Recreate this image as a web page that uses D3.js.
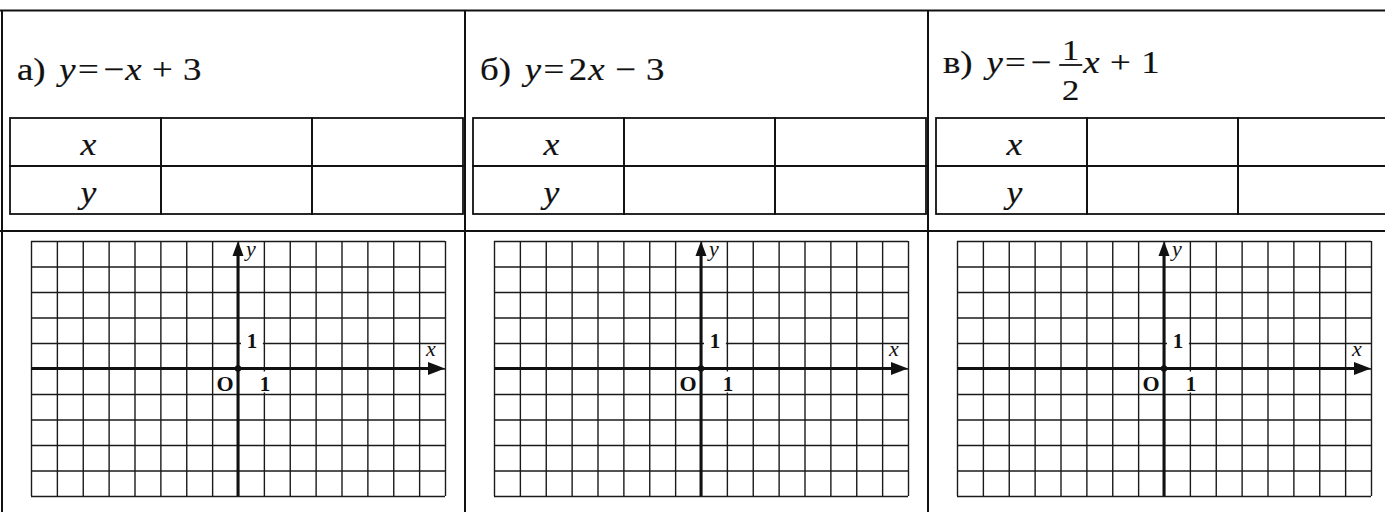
<!DOCTYPE html>
<html>
<head>
<meta charset="utf-8">
<script src="https://cdn.jsdelivr.net/npm/d3@7"></script>
<style>
  body { margin: 0; background: #fff; }
  svg { display: block; }
  text { font-family: "Liberation Serif", "DejaVu Serif", serif; fill: #111; }
  .formula text { stroke: #111; stroke-width: 0.2; }
</style>
</head>
<body>
<div class="sheet"></div>
<script>
// panel captions
var panelLetters = ["а)", "б)", "в)"];

// formulas as tokens: [text, kind]; kind "var" is italic, "frac" holds [numerator, denominator]
var formulaA = [["y", "var"], ["=", "rel"], ["−", "un"], ["x", "var"], ["+", "bin"], ["3", "num"]];
var formulaB = [["y", "var"], ["=", "rel"], ["2", "num"], ["x", "var"], ["−", "bin"], ["3", "num"]];
var formulaC = [["y", "var"], ["=", "rel"], ["−", "un"], [["1", "2"], "frac"], ["x", "var"], ["+", "bin"], ["1", "num"]];
var formulas = [formulaA, formulaB, formulaC];

// value table: row names, two empty columns to fill in
var tableRows = ["x", "y"];
var tableCols = ["name", "c1", "c2"];

// coordinate grid
var xDomain = [-8, 8];
var yDomain = [-5, 5];
var unitTick = 1;

function init() {
  var w = 1385;
  var h = 512;
  var panelLeft = [2, 465, 928];
  var topLine = 10.5;
  var midLine = 231;
  var fs = 32;        // formula font size
  var stretch = 1.15; // the printed typeface is wider than Times

  var svg = d3.select(".sheet")
    .append("svg")
    .attr("width", w)
    .attr("height", h);

  // outer frame lines
  svg.append("line")
    .attr("x1", 0).attr("x2", w)
    .attr("y1", topLine).attr("y2", topLine)
    .attr("stroke", "#111").attr("stroke-width", 2);
  svg.append("line")
    .attr("x1", 0).attr("x2", w)
    .attr("y1", midLine).attr("y2", midLine)
    .attr("stroke", "#111").attr("stroke-width", 2);
  svg.selectAll(".sep")
    .data(panelLeft)
    .enter()
    .append("line")
    .attr("class", "sep")
    .attr("x1", function(d) { return d; })
    .attr("x2", function(d) { return d; })
    .attr("y1", topLine).attr("y2", h)
    .attr("stroke", "#111").attr("stroke-width", 2);

  function gapBefore(kind, prev) {
    if (prev === null) return 0;
    if (kind === "bin" || prev === "bin") return 9;
    if (kind === "rel") return 2;
    if (prev === "rel") return 4;
    if (kind === "frac") return 7;
    return 1;
  }

  panelLetters.forEach(function(letter, i) {
    var g = svg.append("g")
      .attr("transform", "translate(" + panelLeft[i] + ",0)");

    // ---- formula ----
    var tokens = formulas[i];
    var hasFrac = tokens.some(function(t) { return t[1] === "frac"; });
    var baseY = hasFrac ? 73 : 80;
    var fg = g.append("g")
      .attr("class", "formula")
      .attr("transform", "translate(15,0) scale(" + stretch + ",1)");

    var lead = fg.append("text")
      .attr("x", 0).attr("y", baseY)
      .attr("font-size", fs)
      .text(letter);
    var cursor = lead.node().getComputedTextLength() + 12;
    var prev = null;

    tokens.forEach(function(t) {
      cursor += gapBefore(t[1], prev);
      if (t[1] === "frac") {
        var num = fg.append("text")
          .attr("y", baseY - 13)
          .attr("text-anchor", "middle")
          .attr("font-size", 30)
          .text(t[0][0]);
        var den = fg.append("text")
          .attr("y", baseY + 27)
          .attr("text-anchor", "middle")
          .attr("font-size", 30)
          .text(t[0][1]);
        var fw = Math.max(num.node().getComputedTextLength(),
          den.node().getComputedTextLength()) + 5;
        num.attr("x", cursor + fw / 2);
        den.attr("x", cursor + fw / 2);
        fg.append("line")
          .attr("x1", cursor).attr("x2", cursor + fw)
          .attr("y1", baseY - 8).attr("y2", baseY - 8)
          .attr("stroke", "#111").attr("stroke-width", 1.8);
        cursor += fw;
      } else {
        var tk = fg.append("text")
          .attr("x", cursor).attr("y", baseY)
          .attr("font-size", fs)
          .attr("font-style", t[1] === "var" ? "italic" : "normal")
          .text(t[0]);
        cursor += tk.node().getComputedTextLength();
      }
      prev = t[1];
    });

    // ---- value table ----
    var colScale = d3.scaleBand()
      .domain(tableCols)
      .range([8, 8 + 453]);
    var rowScale = d3.scaleBand()
      .domain(tableRows)
      .range([118, 214]);

    var cells = [];
    tableRows.forEach(function(r) {
      tableCols.forEach(function(c) {
        cells.push({ row: r, col: c });
      });
    });

    g.selectAll(".cell")
      .data(cells)
      .enter()
      .append("rect")
      .attr("class", "cell")
      .attr("x", function(d) { return colScale(d.col); })
      .attr("y", function(d) { return rowScale(d.row); })
      .attr("width", colScale.bandwidth())
      .attr("height", rowScale.bandwidth())
      .attr("fill", "none")
      .attr("stroke", "#111")
      .attr("stroke-width", 1.8);

    g.selectAll(".rowName")
      .data(tableRows)
      .enter()
      .append("text")
      .attr("class", "rowName")
      .attr("transform", function(d) {
        return "translate(" + (colScale("name") + colScale.bandwidth() / 2 + 3) + "," +
          (rowScale(d) + rowScale.bandwidth() - 11) + ") scale(" + stretch + ",1)";
      })
      .attr("text-anchor", "middle")
      .attr("font-style", "italic")
      .attr("font-size", 31)
      .attr("stroke", "#111")
      .attr("stroke-width", 0.2)
      .text(function(d) { return d; });

    // ---- coordinate grid ----
    var gl = 29, gt = 241, gw = 414, gh = 255;
    var xScale = d3.scaleLinear().domain(xDomain).range([gl, gl + gw]);
    var yScale = d3.scaleLinear().domain(yDomain).range([gt + gh, gt]);

    var gx = g.append("g")
      .attr("transform", "translate(0," + (gt + gh) + ")")
      .call(d3.axisBottom(xScale)
        .tickValues(d3.range(xDomain[0], xDomain[1] + 1))
        .tickSize(-gh)
        .tickFormat(""));
    var gy = g.append("g")
      .attr("transform", "translate(" + gl + ",0)")
      .call(d3.axisLeft(yScale)
        .tickValues(d3.range(yDomain[0], yDomain[1] + 1))
        .tickSize(-gw)
        .tickFormat(""));
    [gx, gy].forEach(function(a) {
      a.select(".domain").remove();
      a.selectAll("line").attr("stroke", "#1a1a1a").attr("stroke-width", 1.4);
    });

    var ox = xScale(0), oy = yScale(0);

    // white patches under tick labels
    g.append("rect")
      .attr("x", ox + 3).attr("y", yScale(unitTick) - 9)
      .attr("width", xScale(unitTick) - ox - 4).attr("height", 17)
      .attr("fill", "#fff");
    g.append("rect")
      .attr("x", xScale(unitTick) - 6).attr("y", oy + 3)
      .attr("width", 12).attr("height", 21)
      .attr("fill", "#fff");

    // axes
    g.append("line")
      .attr("x1", xScale(xDomain[0])).attr("x2", xScale(xDomain[1]) - 12)
      .attr("y1", oy).attr("y2", oy)
      .attr("stroke", "#111").attr("stroke-width", 3);
    g.append("line")
      .attr("x1", ox).attr("x2", ox)
      .attr("y1", yScale(yDomain[0])).attr("y2", yScale(yDomain[1]) + 10)
      .attr("stroke", "#111").attr("stroke-width", 3);

    var xe = xScale(xDomain[1]);
    g.append("path")
      .attr("d", "M" + xe + "," + oy + "L" + (xe - 17) + "," + (oy - 6.5) +
        "L" + (xe - 17) + "," + (oy + 6.5) + "Z")
      .attr("fill", "#111");
    var ye = yScale(yDomain[1]);
    g.append("path")
      .attr("d", "M" + ox + "," + ye + "L" + (ox - 5.5) + "," + (ye + 15) +
        "L" + (ox + 5.5) + "," + (ye + 15) + "Z")
      .attr("fill", "#111");

    g.append("circle")
      .attr("cx", ox).attr("cy", oy).attr("r", 3.2)
      .attr("fill", "#111");

    // axis labels
    g.append("text")
      .attr("x", ox + 8).attr("y", ye + 15)
      .attr("font-style", "italic")
      .attr("font-size", 22)
      .text("y");
    g.append("text")
      .attr("x", xe - 14).attr("y", oy - 13)
      .attr("text-anchor", "middle")
      .attr("font-style", "italic")
      .attr("font-size", 22)
      .text("x");
    g.append("text")
      .attr("x", ox + 14).attr("y", yScale(unitTick) + 5)
      .attr("text-anchor", "middle")
      .attr("font-weight", "bold")
      .attr("font-size", 21)
      .text(unitTick);
    g.append("text")
      .attr("x", ox - 13).attr("y", oy + 22)
      .attr("text-anchor", "middle")
      .attr("font-weight", "bold")
      .attr("font-size", 22)
      .text("O");
    g.append("text")
      .attr("x", xScale(unitTick) + 1).attr("y", oy + 22)
      .attr("text-anchor", "middle")
      .attr("font-weight", "bold")
      .attr("font-size", 21)
      .text(unitTick);
  });
}

window.onload = init;
</script>
</body>
</html>
